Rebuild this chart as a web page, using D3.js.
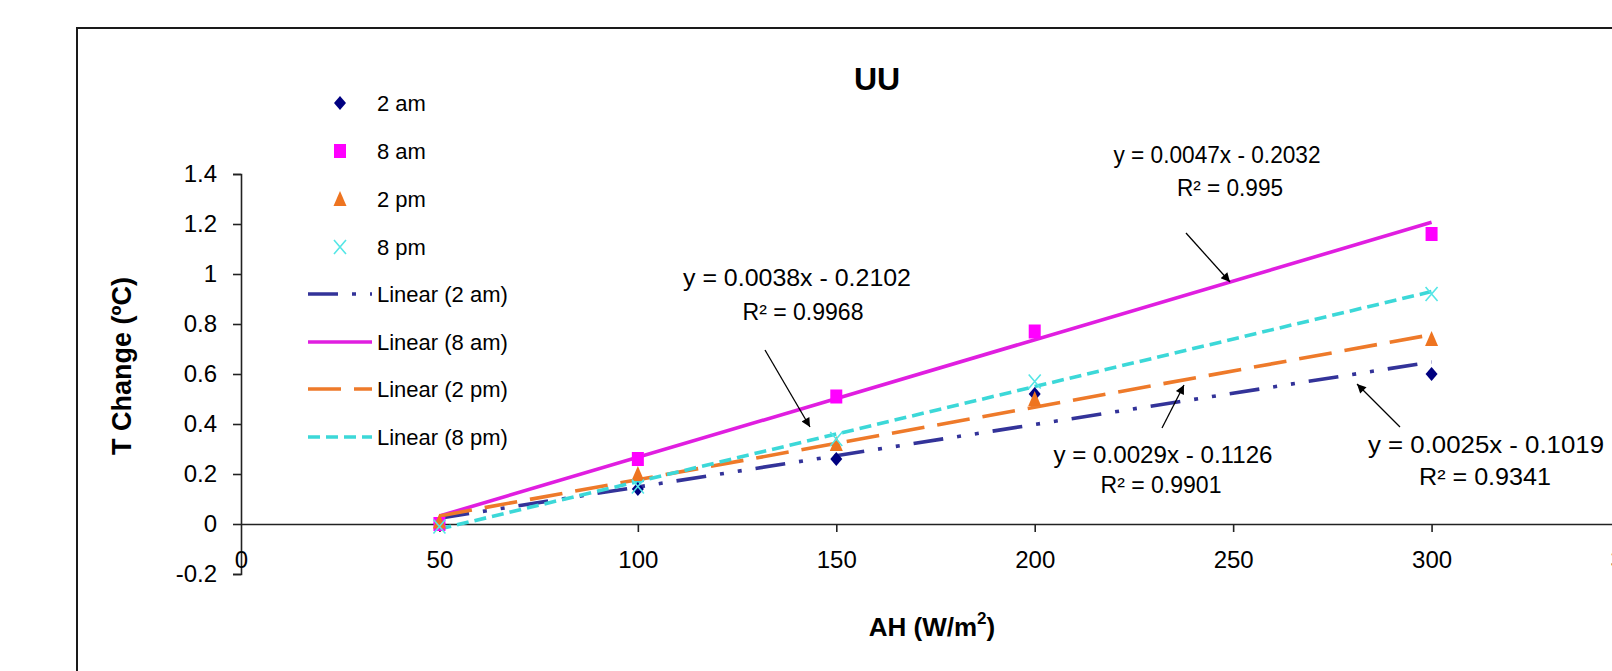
<!DOCTYPE html>
<html>
<head>
<meta charset="utf-8">
<script src="https://cdn.jsdelivr.net/npm/d3@7"></script>
<style>
  html, body { margin: 0; padding: 0; background: #fff; }
  svg { display: block; font-family: "Liberation Sans", Arial, sans-serif; }
</style>
</head>
<body>
<script>
// ---------------- DATA ----------------
const xValues = [50, 100, 150, 200, 300];
const seriesNames = ["2 am", "8 am", "2 pm", "8 pm"];
const values2am = [0.00, 0.14, 0.26, 0.52, 0.60];
const values8am = [0.00, 0.26, 0.51, 0.77, 1.16];
const values2pm = [0.01, 0.20, 0.32, 0.50, 0.74];
const values8pm = [-0.01, 0.15, 0.34, 0.57, 0.92];
const trendSlopes = [0.0025, 0.0047, 0.0029, 0.0038];
const trendIntercepts = [-0.1019, -0.2032, -0.1126, -0.2102];
const trendR2 = ["0.9341", "0.995", "0.9901", "0.9968"];
const trendRange = [50, 300];
const xTicks = [0, 50, 100, 150, 200, 250, 300, 350];
const yTicks = [-0.2, 0, 0.2, 0.4, 0.6, 0.8, 1.0, 1.2, 1.4];
const chartTitle = "UU";
const xTitle = "AH (W/m";
const yTitle = "T Change (ºC)";

// ---------------- STYLE / LAYOUT ----------------
const W = 1612, H = 671;
const FONT = '"Liberation Sans", Arial, sans-serif';
const markerColors = ["#000080", "#FF00FF", "#EE7420", "#55E6E6"];
const lineColors = ["#333399", "#E01EE0", "#EE7A2A", "#3CD8D8"];
const lineDash = ["30,14,4,14,4,14", null, "33,13", "12,6"];
const markerTypes = ["diamond", "square", "triangle", "x"];

const x = d3.scaleLinear().domain([0, 350]).range([241, 1630]);
const y = d3.scaleLinear().domain([-0.2, 1.4]).range([574, 174]);

const svg = d3.select("body").append("svg").attr("width", W).attr("height", H);
svg.append("rect").attr("width", W).attr("height", H).attr("fill", "#fff");

// outer chart border (only top/left visible in crop)
svg.append("path").attr("d", "M77,671V28H1612")
  .attr("fill", "none").attr("stroke", "#1a1a1a").attr("stroke-width", 2);

// title
svg.append("text").attr("x", 877).attr("y", 78).attr("dy", "0.36em")
  .attr("text-anchor", "middle").attr("font-weight", "bold").attr("font-size", 32)
  .text(chartTitle);

// axes
const yAxis = d3.axisLeft(y).tickValues(yTicks).tickSize(8).tickPadding(16)
  .tickFormat(d => String(+d.toFixed(1)));
const gy = svg.append("g").attr("transform", `translate(${x(0)},0)`).call(yAxis);
gy.selectAll("text").attr("font-size", 24).attr("font-family", FONT).attr("fill", "#000");
gy.selectAll("line, path").attr("stroke", "#222").attr("stroke-width", 1.6);

const xAxis = d3.axisBottom(x).tickValues(xTicks).tickSize(8).tickSizeOuter(0).tickPadding(19)
  .tickFormat(d3.format("d"));
const gx = svg.append("g").attr("transform", `translate(0,${y(0)})`).call(xAxis);
gx.selectAll("text").attr("font-size", 24).attr("font-family", FONT).attr("fill", "#000");
gx.selectAll("line, path").attr("stroke", "#222").attr("stroke-width", 1.6);
gx.selectAll(".tick").filter(d => d === 0).select("line").remove();

// axis titles
const xt = svg.append("text").attr("x", 932).attr("y", 627).attr("dy", "0.36em")
  .attr("text-anchor", "middle").attr("font-weight", "bold").attr("font-size", 26);
xt.append("tspan").text(xTitle);
xt.append("tspan").attr("font-size", 17).attr("dy", "-0.75em").text("2");
xt.append("tspan").attr("dy", "0.47em").text(")");

svg.append("text").attr("transform", "translate(121,366) rotate(-90)")
  .attr("dy", "0.36em").attr("text-anchor", "middle")
  .attr("font-weight", "bold").attr("font-size", 27).text(yTitle);

// marker drawer
function drawMarker(g, type, color, cx, cy) {
  if (type === "diamond") {
    g.append("path").attr("d", `M${cx},${cy - 7}L${cx + 6},${cy}L${cx},${cy + 7}L${cx - 6},${cy}Z`)
      .attr("fill", color);
  } else if (type === "square") {
    g.append("rect").attr("x", cx - 6).attr("y", cy - 7).attr("width", 12).attr("height", 14)
      .attr("fill", color);
  } else if (type === "triangle") {
    g.append("path").attr("d", `M${cx},${cy - 8}L${cx + 6.5},${cy + 7}L${cx - 6.5},${cy + 7}Z`)
      .attr("fill", color);
  } else {
    g.append("path").attr("d", `M${cx - 6},${cy - 7}L${cx + 6},${cy + 7}M${cx + 6},${cy - 7}L${cx - 6},${cy + 7}`)
      .attr("stroke", color).attr("stroke-width", 1.6).attr("fill", "none");
  }
}

// trend lines
const seriesValues = [values2am, values8am, values2pm, values8pm];
const lineGen = d3.line().x(d => x(d[0])).y(d => y(d[1]));
const plot = svg.append("g");
seriesValues.forEach((vals, i) => {
  const pts = trendRange.map(v => [v, trendSlopes[i] * v + trendIntercepts[i]]);
  plot.append("path").datum(pts).attr("d", lineGen)
    .attr("fill", "none").attr("stroke", lineColors[i]).attr("stroke-width", 3.6)
    .attr("stroke-dasharray", lineDash[i]);
});
// markers
seriesValues.forEach((vals, i) => {
  const g = plot.append("g");
  vals.forEach((v, j) => drawMarker(g, markerTypes[i], markerColors[i], x(xValues[j]), y(v)));
});

// legend
const legend = svg.append("g");
const legRowsMarker = [103, 151, 199, 247];
const legRowsLine = [294, 342, 389, 437];
seriesNames.forEach((name, i) => {
  drawMarker(legend, markerTypes[i], markerColors[i], 340, legRowsMarker[i]);
  legend.append("text").attr("x", 377).attr("y", legRowsMarker[i]).attr("dy", "0.36em")
    .attr("font-size", 22).text(name);
});
seriesNames.forEach((name, i) => {
  legend.append("line").attr("x1", 308).attr("x2", 372)
    .attr("y1", legRowsLine[i]).attr("y2", legRowsLine[i])
    .attr("stroke", lineColors[i]).attr("stroke-width", 3.6)
    .attr("stroke-dasharray", lineDash[i]);
  legend.append("text").attr("x", 377).attr("y", legRowsLine[i]).attr("dy", "0.36em")
    .attr("font-size", 22).text(`Linear (${name})`);
});

// trendline labels (series index, label layout)
const labelLayout = [
  { s: 1, cx: 1217, cy: 155, w: 207, cx2: 1230, cy2: 188, w2: 106 },
  { s: 3, cx: 797, cy: 278, w: 228, cx2: 803, cy2: 312, w2: 121 },
  { s: 2, cx: 1163, cy: 455, w: 219, cx2: 1161, cy2: 485, w2: 121 },
  { s: 0, cx: 1486, cy: 445, w: 236, cx2: 1485, cy2: 477, w2: 132 }
];
const fmt4 = v => String(+Math.abs(v).toFixed(4));
labelLayout.forEach(L => {
  const i = L.s;
  const eq = `y = ${fmt4(trendSlopes[i])}x ${trendIntercepts[i] < 0 ? "-" : "+"} ${fmt4(trendIntercepts[i])}`;
  svg.append("text").attr("x", L.cx).attr("y", L.cy).attr("dy", "0.36em")
    .attr("text-anchor", "middle").attr("font-size", 23)
    .attr("textLength", L.w).attr("lengthAdjust", "spacingAndGlyphs").text(eq);
  svg.append("text").attr("x", L.cx2).attr("y", L.cy2).attr("dy", "0.36em")
    .attr("text-anchor", "middle").attr("font-size", 23)
    .attr("textLength", L.w2).attr("lengthAdjust", "spacingAndGlyphs").text(`R² = ${trendR2[i]}`);
});

// arrows
const defs = svg.append("defs");
defs.append("marker").attr("id", "ah").attr("viewBox", "0 0 10 10").attr("refX", 10).attr("refY", 5)
  .attr("markerWidth", 13).attr("markerHeight", 9).attr("markerUnits", "userSpaceOnUse")
  .attr("orient", "auto").append("path").attr("d", "M0,0L10,5L0,10Z").attr("fill", "#000");
const arrows = [
  [1186, 233, 1230, 282],
  [765, 350, 810, 427],
  [1162, 428, 1184, 385],
  [1400, 427, 1357, 384]
];
arrows.forEach(a => {
  svg.append("line").attr("x1", a[0]).attr("y1", a[1]).attr("x2", a[2]).attr("y2", a[3])
    .attr("stroke", "#000").attr("stroke-width", 1.3).attr("marker-end", "url(#ah)");
});
</script>
</body>
</html>
